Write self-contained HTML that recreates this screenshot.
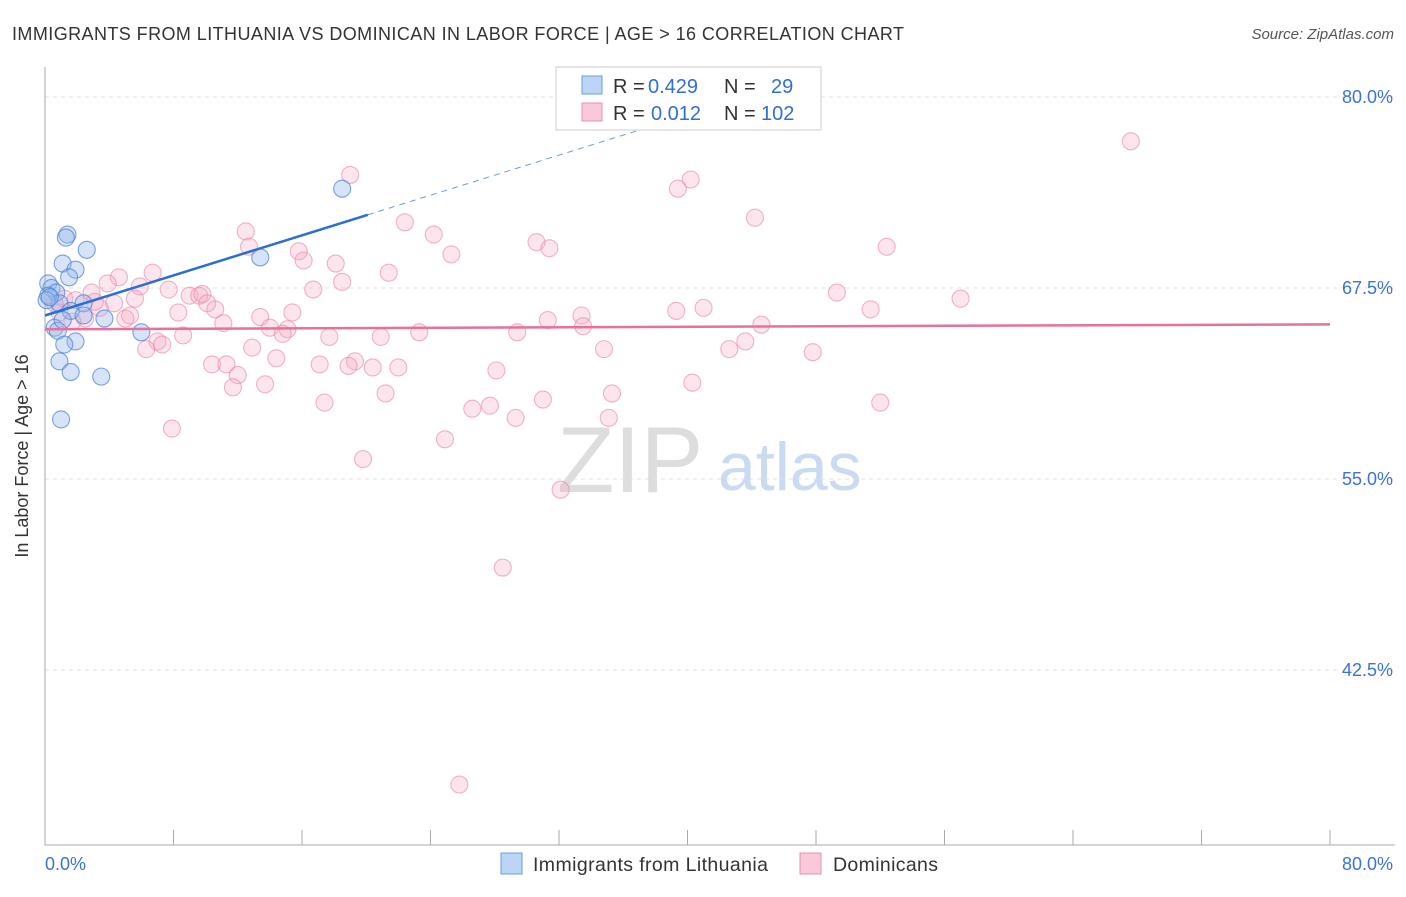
<!DOCTYPE html>
<html><head><meta charset="utf-8"><style>
body{margin:0;background:#fff;font-family:"Liberation Sans",sans-serif}
svg text{font-family:"Liberation Sans",sans-serif}
</style></head><body>
<svg id="c" width="1406" height="892" xmlns="http://www.w3.org/2000/svg">
<text x="12" y="40" font-size="18" fill="#333" textLength="892">IMMIGRANTS FROM LITHUANIA VS DOMINICAN IN LABOR FORCE | AGE &gt; 16 CORRELATION CHART</text>
<text x="1394" y="39" font-size="15" fill="#555" font-style="italic" text-anchor="end">Source: ZipAtlas.com</text>
<text x="28" y="456" font-size="18" fill="#333" text-anchor="middle" transform="rotate(-90 28 456)">In Labor Force | Age &gt; 16</text>
<text x="557" y="492" font-size="94" fill="#ddd" font-family="Liberation Serif">ZIP</text>
<text x="718" y="490" font-size="68" fill="#c9daf2">atlas</text>
<g id="grid"></g><g id="axes"></g><g id="pink"></g><g id="blue"></g><g id="lines"></g>
<g>
<rect x="556" y="67" width="265" height="63" fill="#fff" stroke="#ccc"/>
<rect x="582" y="76" width="20" height="18" fill="#bcd4f5" stroke="#6a9de0"/>
<rect x="582" y="103" width="20" height="18" fill="#f9c9d8" stroke="#e890ad"/>
<text x="613" y="93" font-size="20" fill="#333">R =</text><text x="648" y="93" font-size="20" fill="#2f6fd6">0.429</text>
<text x="724" y="93" font-size="20" fill="#333">N =</text><text x="771" y="93" font-size="20" fill="#2f6fd6">29</text>
<text x="613" y="120" font-size="20" fill="#333">R =</text><text x="651" y="120" font-size="20" fill="#2f6fd6">0.012</text>
<text x="724" y="120" font-size="20" fill="#333">N =</text><text x="761" y="120" font-size="20" fill="#2f6fd6">102</text>
</g>
<g>
<rect x="501" y="853" width="21" height="21" fill="#bcd4f5" stroke="#6a9de0"/>
<text x="533" y="871" font-size="19.5" fill="#333" textLength="235">Immigrants from Lithuania</text>
<rect x="800" y="853" width="21" height="21" fill="#f9c9d8" stroke="#e890ad"/>
<text x="833" y="871" font-size="19.5" fill="#333" textLength="105">Dominicans</text>
</g>
</svg>
<script>
const yTicks=[80,67.5,55,42.5];
const yTickLabels=["80.0%","67.5%","55.0%","42.5%"];
const xEndLabels=["0.0%","80.0%"];
const pinkX=[67.6,19.0,40.2,39.4,44.2,12.5,22.4,24.2,12.7,30.6,31.4,25.3,52.4,15.8,16.1,18.1,21.4,6.7,4.6,3.9,18.5,5.9,7.7,16.7,2.9,4.3,5.6,9.0,9.6,9.8,10.1,10.6,8.3,13.4,15.4,5.0,5.3,11.1,33.4,31.3,33.5,39.3,41.0,49.3,51.4,57.0,44.6,14.0,15.1,14.8,23.3,29.4,17.7,20.9,8.6,7.0,7.3,6.3,12.9,34.8,42.6,43.6,47.8,14.4,19.3,10.4,11.3,17.1,18.9,20.4,22.0,12.0,28.1,11.7,13.7,40.3,21.2,17.4,26.6,27.7,31.0,52.0,29.3,35.1,35.3,7.9,24.9,19.8,32.1,28.5,25.8,3.4,2.5,1.7,0.9,1.2,1.9,0.6,3.1];
const pinkY=[77.1,74.9,74.6,74.0,72.1,71.2,71.8,71.0,70.2,70.5,70.1,69.7,70.2,69.9,69.3,69.1,68.5,68.5,68.2,67.8,67.9,67.6,67.4,67.4,67.2,66.5,66.8,67.0,67.0,67.1,66.5,66.1,65.9,65.6,65.9,65.5,65.7,65.2,65.7,65.4,65.0,66.0,66.2,67.2,66.1,66.8,65.1,64.9,64.8,64.5,64.6,64.6,64.3,64.3,64.4,64.0,63.8,63.5,63.6,63.5,63.5,64.0,63.3,62.9,62.7,62.5,62.5,62.5,62.4,62.3,62.3,61.8,62.1,61.0,61.2,61.3,60.6,60.0,59.6,59.8,60.2,60.0,59.0,59.0,60.6,58.3,57.6,56.3,54.3,49.2,35.0,66.2,65.5,65.3,65.9,66.8,66.7,66.5,66.6];
const blueX=[18.5,1.4,1.3,2.6,1.1,1.9,1.5,0.2,0.4,0.7,0.2,0.9,2.4,1.6,2.4,3.7,6.0,0.6,0.8,1.9,1.2,0.9,1.6,3.5,13.4,1.0,0.1,0.3,1.1];
const blueY=[74.0,71.0,70.8,70.0,69.1,68.7,68.2,67.8,67.5,67.2,67.0,66.5,66.5,66.0,65.7,65.5,64.6,64.9,64.7,64.0,63.8,62.7,62.0,61.7,69.5,58.9,66.7,66.9,65.4];
const blueTrend=[65.7,0.328];   // intercept, slope
const pinkTrend=[64.8,0.004];
const NS='http://www.w3.org/2000/svg';
const X=v=>45+v/80*1285, Y=v=>97+(80-v)/12.5*191;
function mk(t,a,p){const e=document.createElementNS(NS,t);for(const k in a)e.setAttribute(k,a[k]);document.getElementById(p).appendChild(e);return e;}
yTicks.forEach((t,i)=>{
 const g=mk('line',{x1:45,x2:1395,y1:Y(t),y2:Y(t),stroke:'#e2e2e2','stroke-dasharray':'4 4'},'grid');
 
 
 const l=mk('text',{x:1393,y:Y(t)+6,'font-size':18,fill:'#3a73d6','text-anchor':'end'},'axes');
 l.textContent=yTickLabels[i];
 
 
});
const ya=mk('line',{x1:45,x2:45,y1:67,y2:845,stroke:'#aaa'},'axes');


const xa=mk('line',{x1:45,x2:1395,y1:845,y2:845,stroke:'#aaa'},'axes');


for(let i=0;i<=10;i++){const t=mk('line',{x1:X(i*8),x2:X(i*8),y1:830,y2:845,stroke:'#aaa'},'axes');
 
 }
[[0,'start',45],[80,'end',1393]].forEach((d,i)=>{const t=mk('text',{x:d[2],y:870,'font-size':18,fill:'#3a73d6','text-anchor':d[1]},'axes');t.textContent=xEndLabels[i];
 
 });
pinkX.forEach((x,i)=>{const c=mk('circle',{cx:X(x),cy:Y(pinkY[i]),r:8.5,fill:'rgba(245,170,195,0.3)',stroke:'rgba(232,130,165,0.6)','stroke-width':1.1},'pink');
 
 });
blueX.forEach((x,i)=>{const c=mk('circle',{cx:X(x),cy:Y(blueY[i]),r:8.5,fill:'rgba(150,185,235,0.38)',stroke:'rgba(70,125,215,0.7)','stroke-width':1.1},'blue');
 
 });
const bl=mk('line',{x1:X(0),y1:Y(blueTrend[0]),x2:X(20.1),y2:Y(blueTrend[0]+blueTrend[1]*20.1),stroke:'#2a6fd6','stroke-width':2.5},'lines');


const bd=mk('line',{x1:X(20.1),y1:Y(blueTrend[0]+blueTrend[1]*20.1),x2:X(38),y2:Y(blueTrend[0]+blueTrend[1]*38),stroke:'#6a9de0','stroke-width':1,'stroke-dasharray':'6 5'},'lines');


const pl=mk('line',{x1:X(0),y1:Y(pinkTrend[0]),x2:X(80),y2:Y(pinkTrend[0]+pinkTrend[1]*80),stroke:'#e8709a','stroke-width':2.5},'lines');


</script>
</body></html>
